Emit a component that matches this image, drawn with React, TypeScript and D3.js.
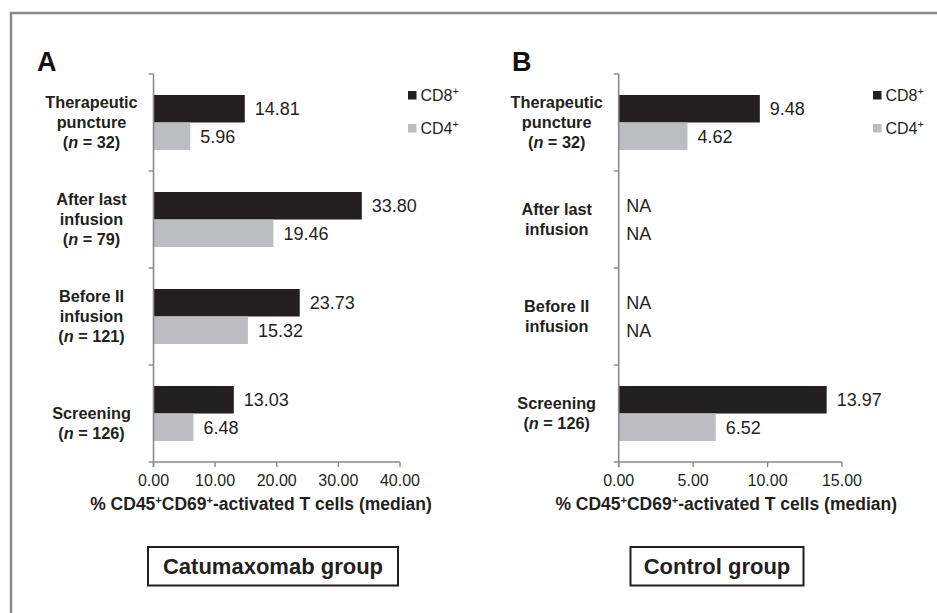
import * as d3 from 'd3';

const categories = ['Therapeutic puncture', 'After last infusion', 'Before II infusion', 'Screening'];
const series = ['CD8', 'CD4'];

// label lines per category (Excel wrapping as in the figure)
const labelsA = [
    ['Therapeutic', 'puncture', '(n = 32)'],
    ['After last', 'infusion', '(n = 79)'],
    ['Before II', 'infusion', '(n = 121)'],
    ['', 'Screening', '(n = 126)']
];
const labelsB = [
    ['Therapeutic', 'puncture', '(n = 32)'],
    ['After last', 'infusion'],
    ['Before II', 'infusion'],
    ['Screening', '(n = 126)']
];

const cd8A = [14.81, 33.8, 23.73, 13.03];
const cd4A = [5.96, 19.46, 15.32, 6.48];
const cd8B: (number | null)[] = [9.48, null, null, 13.97];
const cd4B: (number | null)[] = [4.62, null, null, 6.52];

const ticksA = [0, 10, 20, 30, 40];
const ticksB = [0, 5, 10, 15];

const font = 'Liberation Sans, Arial, Helvetica, sans-serif';
const ink = '#231f20';
const lightBar = '#bcbdc0';
const axisGrey = '#8a8a8a';
const colors = d3.scaleOrdinal<string, string>().domain(series).range([ink, lightBar]);

const top = 74;
const bottom = 462;

type PanelProps = {
    letter: string;
    letterX: number;
    axisX: number;
    axisEnd: number;
    ticks: number[];
    labels: string[][];
    cd8: (number | null)[];
    cd4: (number | null)[];
    legendX: number;
    boxX: number;
    boxW: number;
    title: string;
};

function LabelLine({ text }: { text: string }) {
    if (text.startsWith('(n')) {
        return (
            <>
                (<tspan fontStyle="italic">n</tspan>
                {text.slice(2)}
            </>
        );
    }
    return <>{text}</>;
}

function Panel(p: PanelProps) {
    const x = d3
        .scaleLinear()
        .domain([0, p.ticks[p.ticks.length - 1]])
        .range([p.axisX, p.axisEnd]);
    const y = d3.scaleBand<string>().domain(categories).range([top, bottom]);
    const y1 = d3.scaleBand<string>().domain(series).range([0, y.bandwidth()]).paddingOuter(0.764);
    const labelX = p.axisX - 62;
    const boundaries = [...categories.map((c) => y(c) as number), bottom];

    return (
        <g fontFamily={font}>
            <text x={p.letterX} y={71} fontSize={27} fontWeight="bold" fill="#111">
                {p.letter}
            </text>

            {/* bars */}
            {categories.map((c, i) =>
                series.map((s) => {
                    const v = s === 'CD8' ? p.cd8[i] : p.cd4[i];
                    const by = (y(c) as number) + (y1(s) as number);
                    const cy = by + y1.bandwidth() / 2;
                    if (v === null) {
                        return (
                            <text key={c + s} x={p.axisX + 7.5} y={cy + 6.5} fontSize={18} fill={ink}>
                                NA
                            </text>
                        );
                    }
                    return (
                        <g key={c + s}>
                            <rect x={x(0)} y={by} width={x(v) - x(0)} height={y1.bandwidth()} fill={colors(s)} />
                            <text x={x(v) + 10} y={cy + 6.5} fontSize={18} fill={ink}>
                                {v.toFixed(2)}
                            </text>
                        </g>
                    );
                })
            )}

            {/* category axis */}
            <line x1={p.axisX} x2={p.axisX} y1={top} y2={bottom + 5} stroke={axisGrey} strokeWidth={1.6} />
            {boundaries.map((b, i) => (
                <line key={i} x1={p.axisX - 5} x2={p.axisX} y1={b} y2={b} stroke={axisGrey} strokeWidth={1.4} />
            ))}
            {categories.map((c, i) => {
                const lines = p.labels[i];
                const cy = (y(c) as number) + y.bandwidth() / 2;
                return (
                    <text key={c} textAnchor="middle" fontSize={16.3} fontWeight="bold" fill={ink}>
                        {lines.map((l, k) => (
                            <tspan key={k} x={labelX} y={cy + (k - (lines.length - 1) / 2) * 20 + 5.8}>
                                <LabelLine text={l} />
                            </tspan>
                        ))}
                    </text>
                );
            })}

            {/* value axis */}
            <line x1={p.axisX} x2={p.axisEnd} y1={bottom} y2={bottom} stroke={axisGrey} strokeWidth={1.6} />
            {p.ticks.map((t) => (
                <g key={t}>
                    <line x1={x(t)} x2={x(t)} y1={bottom} y2={bottom + 5} stroke={axisGrey} strokeWidth={1.4} />
                    <text x={x(t)} y={486} textAnchor="middle" fontSize={16} fill={ink}>
                        {t.toFixed(2)}
                    </text>
                </g>
            ))}
            <text x={p.axisX + 107.5} y={509.5} textAnchor="middle" fontSize={17.5} fontWeight="bold" fill={ink}>
                <tspan>% CD45</tspan>
                <tspan dy={-6} fontSize={11}>
                    +
                </tspan>
                <tspan dy={6}>CD69</tspan>
                <tspan dy={-6} fontSize={11}>
                    +
                </tspan>
                <tspan dy={6}>-activated T cells (median)</tspan>
            </text>

            {/* legend */}
            {series.map((s, i) => (
                <g key={s} transform={`translate(${p.legendX},${91 + i * 33})`}>
                    <rect width={8.5} height={8.5} fill={colors(s)} />
                    <text x={12.5} y={10.2} fontSize={16} fill={ink}>
                        <tspan>{s}</tspan>
                        <tspan dy={-6} fontSize={11}>
                            +
                        </tspan>
                    </text>
                </g>
            ))}

            {/* group box */}
            <rect x={p.boxX} y={547} width={p.boxW} height={38.5} fill="none" stroke={ink} strokeWidth={2} />
            <text x={p.boxX + p.boxW / 2} y={574} textAnchor="middle" fontSize={22} fontWeight="bold" fill={ink}>
                {p.title}
            </text>
        </g>
    );
}

export default function App() {
    return (
        <svg width={937} height={613} style={{ position: 'absolute', left: 0, top: 0, background: '#fff' }}>
            <rect width={937} height={613} fill="#fff" />
            <path d="M11,613V13H937" fill="none" stroke={axisGrey} strokeWidth={2.5} />
            <Panel
                letter="A"
                letterX={37}
                axisX={153.5}
                axisEnd={400}
                ticks={ticksA}
                labels={labelsA}
                cd8={cd8A}
                cd4={cd4A}
                legendX={408}
                boxX={148}
                boxW={250}
                title="Catumaxomab group"
            />
            <Panel
                letter="B"
                letterX={512}
                axisX={618.7}
                axisEnd={842}
                ticks={ticksB}
                labels={labelsB}
                cd8={cd8B}
                cd4={cd4B}
                legendX={873}
                boxX={630.5}
                boxW={173}
                title="Control group"
            />
        </svg>
    );
}
